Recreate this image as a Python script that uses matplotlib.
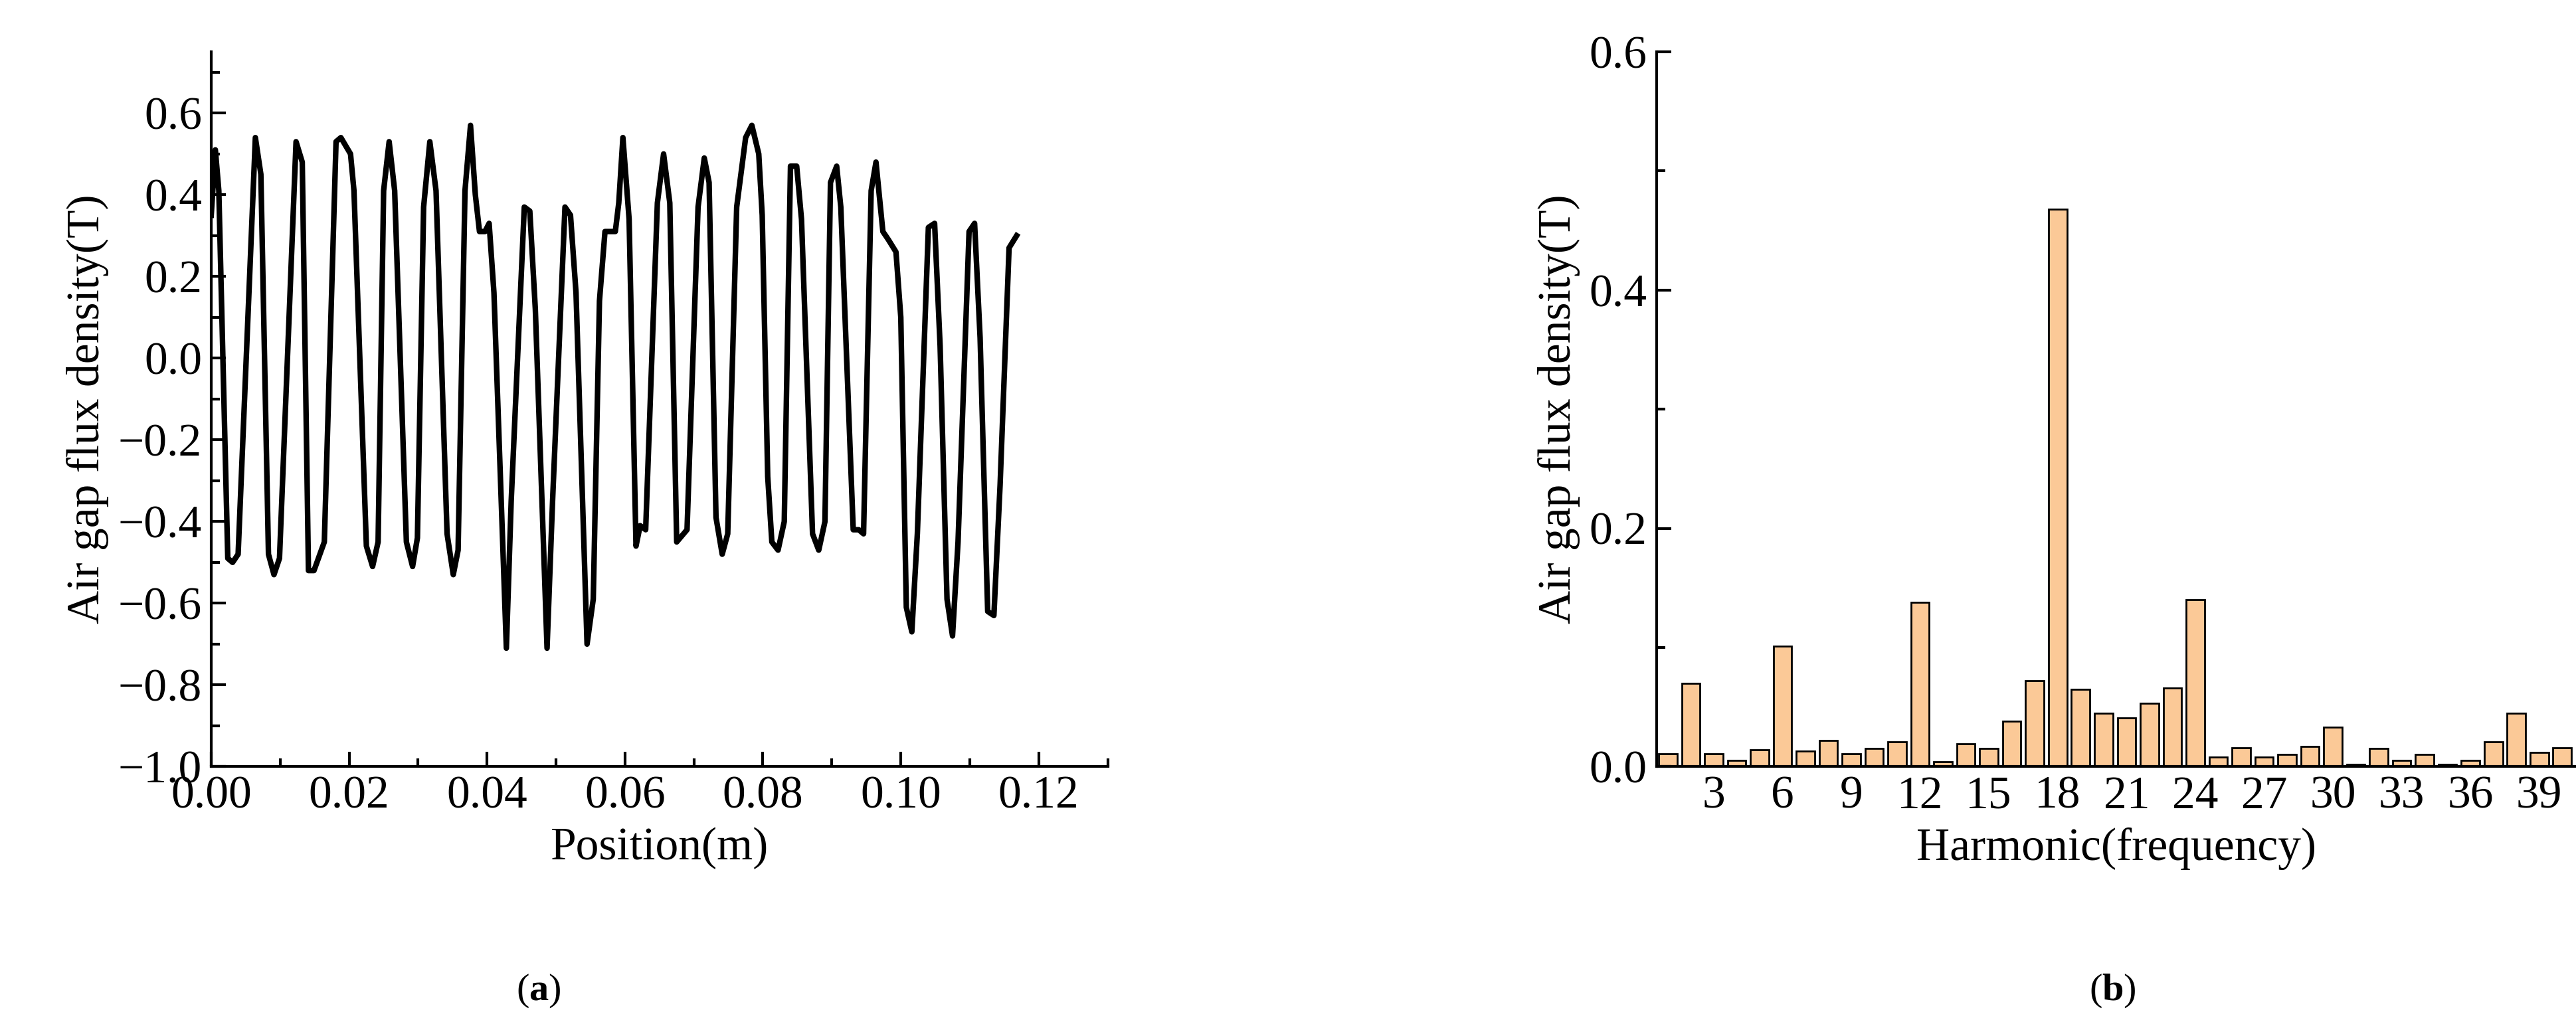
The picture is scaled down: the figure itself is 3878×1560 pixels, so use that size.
import matplotlib
matplotlib.use("Agg")
from matplotlib import pyplot as plt
from matplotlib.ticker import MultipleLocator

plt.rcParams['font.family'] = ['Liberation Serif', 'DejaVu Serif']
plt.rcParams['mathtext.fontset'] = 'custom'
plt.rcParams['mathtext.rm'] = 'Liberation Serif'
plt.rcParams['mathtext.bf'] = 'Liberation Serif:bold'

# (a) air gap flux density along position
posicion = [0.0000, 0.0006, 0.0011, 0.0024, 0.0031, 0.0039, 0.0064, 0.0072, 0.0083, 0.0091,
            0.0099, 0.0123, 0.0132, 0.0141, 0.0149, 0.0164, 0.0181, 0.0188, 0.0202, 0.0207,
            0.0225, 0.0234, 0.0242, 0.0250, 0.0258, 0.0266, 0.0283, 0.0292, 0.0299, 0.0308,
            0.0317, 0.0326, 0.0342, 0.0351, 0.0358, 0.0368, 0.0376, 0.0383, 0.0389, 0.0397,
            0.0403, 0.0410, 0.0428, 0.0435, 0.0454, 0.0462, 0.0470, 0.0487, 0.0495, 0.0513,
            0.0521, 0.0529, 0.0545, 0.0554, 0.0563, 0.0571, 0.0586, 0.0591, 0.0597, 0.0606,
            0.0616, 0.0622, 0.0630, 0.0647, 0.0656, 0.0665, 0.0675, 0.0690, 0.0706, 0.0715,
            0.0722, 0.0732, 0.0741, 0.0749, 0.0762, 0.0775, 0.0784, 0.0794, 0.0799, 0.0807,
            0.0813, 0.0822, 0.0831, 0.0840, 0.0849, 0.0856, 0.0872, 0.0881, 0.0890, 0.0898,
            0.0907, 0.0913, 0.0931, 0.0939, 0.0946, 0.0957, 0.0964, 0.0974, 0.0982, 0.0993,
            0.1000, 0.1008, 0.1016, 0.1024, 0.1040, 0.1049, 0.1057, 0.1067, 0.1075, 0.1083,
            0.1099, 0.1107, 0.1115, 0.1126, 0.1135, 0.1144, 0.1157, 0.1168]
densidad = [0.35, 0.51, 0.41, -0.49, -0.50, -0.48, 0.54, 0.45, -0.48, -0.53,
            -0.49, 0.53, 0.48, -0.52, -0.52, -0.45, 0.53, 0.54, 0.50, 0.41,
            -0.46, -0.51, -0.45, 0.41, 0.53, 0.41, -0.45, -0.51, -0.44, 0.37,
            0.53, 0.41, -0.43, -0.53, -0.47, 0.41, 0.57, 0.40, 0.31, 0.31,
            0.33, 0.16, -0.71, -0.35, 0.37, 0.36, 0.12, -0.71, -0.35, 0.37,
            0.35, 0.16, -0.70, -0.59, 0.14, 0.31, 0.31, 0.38, 0.54, 0.34,
            -0.46, -0.41, -0.42, 0.38, 0.50, 0.38, -0.45, -0.42, 0.37, 0.49,
            0.43, -0.39, -0.48, -0.43, 0.37, 0.54, 0.57, 0.50, 0.35, -0.29,
            -0.45, -0.47, -0.40, 0.47, 0.47, 0.34, -0.43, -0.47, -0.40, 0.43,
            0.47, 0.37, -0.42, -0.42, -0.43, 0.41, 0.48, 0.31, 0.29, 0.26,
            0.10, -0.61, -0.67, -0.43, 0.32, 0.33, 0.03, -0.59, -0.68, -0.45,
            0.31, 0.33, 0.05, -0.62, -0.63, -0.31, 0.27, 0.30]

# (b) harmonic spectrum
armonicos = list(range(1, 41))
amplitud = [0.011, 0.070, 0.011, 0.005, 0.014, 0.101, 0.013, 0.022, 0.011, 0.015,
            0.021, 0.138, 0.004, 0.019, 0.015, 0.038, 0.072, 0.468, 0.065, 0.045,
            0.041, 0.053, 0.066, 0.140, 0.008, 0.016, 0.008, 0.010, 0.017, 0.033,
            0.002, 0.015, 0.005, 0.010, 0.002, 0.005, 0.021, 0.045, 0.012, 0.016]

fig = plt.figure(figsize=(38.78, 15.60), dpi=100)
fs = 50

ax1 = fig.add_axes([0.082, 0.26, 0.348, 0.69])
ax1.plot(posicion, densidad, color='black', lw=6)
ax1.set_xlim(0.0, 0.13)
ax1.set_ylim(-1.0, 0.75)
ax1.set_yticks([-1.0, -0.8, -0.6, -0.4, -0.2, 0.0, 0.2, 0.4, 0.6])
ax1.set_xticks([0.00, 0.02, 0.04, 0.06, 0.08, 0.10, 0.12])
ax1.yaxis.set_minor_locator(MultipleLocator(0.1))
ax1.xaxis.set_minor_locator(MultipleLocator(0.01))
ax1.set_xlabel("Position(m)", fontsize=fs, labelpad=10)
ax1.set_ylabel("Air gap flux density(T)", fontsize=fs, labelpad=10)

ax2 = fig.add_axes([0.643, 0.26, 0.357, 0.69])
ax2.bar(armonicos, amplitud, width=0.8, color='#FBC997', edgecolor='black', lw=2)
ax2.set_xlim(0.5, 40.6)
ax2.set_ylim(0, 0.6)
ax2.set_yticks([0.0, 0.2, 0.4, 0.6])
ax2.set_xticks(range(3, 40, 3))
ax2.yaxis.set_minor_locator(MultipleLocator(0.1))
ax2.set_xlabel("Harmonic(frequency)", fontsize=fs, labelpad=10)
ax2.set_ylabel("Air gap flux density(T)", fontsize=fs, labelpad=10)

for ax in (ax1, ax2):
    for s in ('top', 'right'):
        ax.spines[s].set_visible(False)
    for s in ('left', 'bottom'):
        ax.spines[s].set_linewidth(3)
    ax.tick_params(which='major', direction='in', length=16, width=3, labelsize=fs, pad=10)
    ax.tick_params(which='minor', direction='in', length=9, width=3)
ax2.tick_params(axis='x', which='major', length=0)

fig.text(0.209, 0.035, r'($\mathbf{a}$)', fontsize=42, ha='center')
fig.text(0.82, 0.035, r'($\mathbf{b}$)', fontsize=42, ha='center')

fig.savefig("out.png", dpi=100)
